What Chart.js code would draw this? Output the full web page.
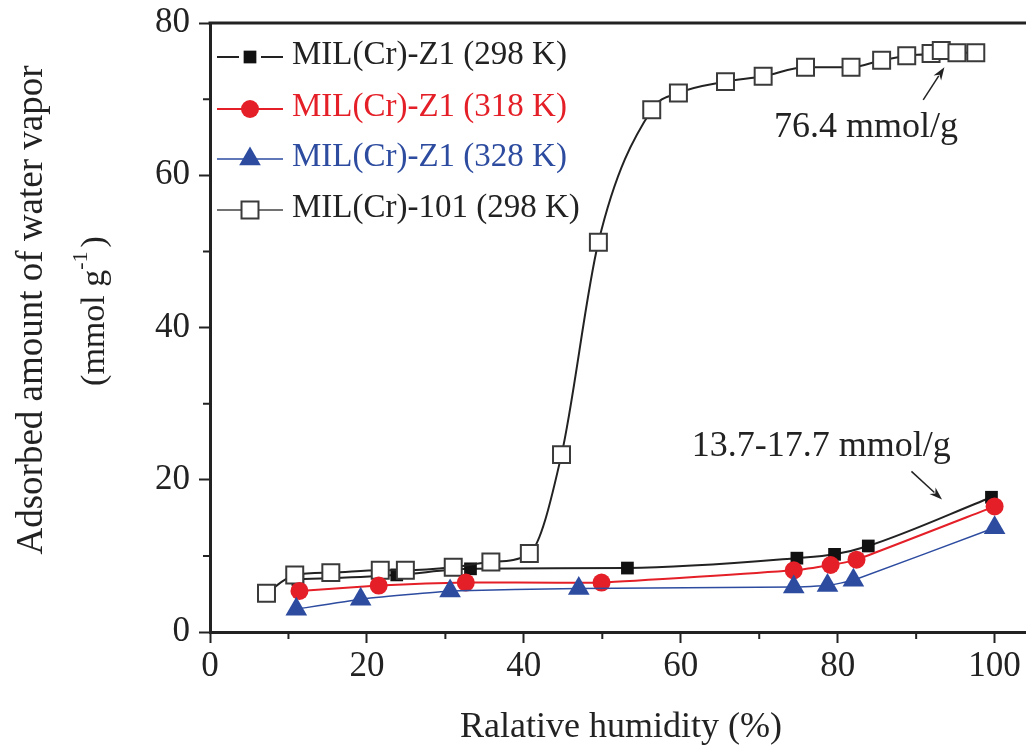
<!DOCTYPE html>
<html>
<head>
<meta charset="utf-8">
<script src="https://cdn.jsdelivr.net/npm/chart.js@4/dist/chart.umd.min.js"></script>
<style>
  body { margin: 0; background: #fff; overflow: hidden; }
  #wrap { width: 1026px; height: 747px; }
  canvas { display: block; }
</style>
</head>
<body>
<div id="wrap"><canvas id="isotherm" width="1026" height="747"></canvas></div>
<script>
// --- data: relative humidity (%) vs adsorbed water (mmol/g) ---
const rhZ1_298 = [11.2, 23.8, 33.2, 53.2, 74.8, 79.6, 83.9, 99.6];
const upZ1_298 = [6.9, 7.5, 8.3, 8.4, 9.7, 10.2, 11.3, 17.7];

const rhZ1_318 = [11.4, 21.5, 32.6, 49.9, 74.4, 79.1, 82.4, 100];
const upZ1_318 = [5.4, 6.1, 6.5, 6.5, 8.1, 8.8, 9.5, 16.5];

const rhZ1_328 = [11.0, 19.2, 30.6, 47.0, 74.4, 78.7, 82.0, 100];
const upZ1_328 = [3.0, 4.3, 5.4, 5.7, 5.9, 6.1, 6.8, 13.7];

const rhMIL101 = [7.2, 10.8, 15.4, 21.7, 24.9, 31.0, 35.8, 40.7, 44.8, 49.5, 56.3, 59.7,
                  65.7, 70.5, 75.9, 81.7, 85.6, 88.8, 91.9, 93.2, 95.2, 97.6];
const upMIL101 = [5.1, 7.5, 7.8, 8.1, 8.1, 8.5, 9.2, 10.3, 23.3, 51.2, 68.6, 70.8,
                  72.3, 73.0, 74.2, 74.2, 75.1, 75.7, 76.0, 76.4, 76.1, 76.1];

const xTicks = [0, 20, 40, 60, 80, 100];
const yTicks = [0, 20, 40, 60, 80];
const xMinor = [10, 30, 50, 70, 90];
const yMinor = [10, 30, 50, 70];

const seriesNames = ['MIL(Cr)-Z1 (298 K)', 'MIL(Cr)-Z1 (318 K)', 'MIL(Cr)-Z1 (328 K)', 'MIL(Cr)-101 (298 K)'];

const SERIF = "'Liberation Serif', 'Times New Roman', serif";
const INK = '#222';
const RED = '#e41f27';
const BLUE = '#2d4ca0';

const pts = (xs, ys) => xs.map((x, i) => ({ x: x, y: ys[i] }));

// callouts in data units
const notes = [
  { text: '76.4 mmol/g', at: [83.6, 66.3], tail: [90.9, 69.9], tip: [93.6, 74.2] },
  { text: '13.7-17.7 mmol/g', at: [77.9, 24.4], tail: [89.4, 21.1], tip: [93.3, 17.4] }
];

function marker(ctx, style, x, y, r, fill, stroke, bw) {
  ctx.save();
  ctx.beginPath();
  if (style === 'rect') {
    const s = r * Math.SQRT1_2;
    ctx.rect(x - s, y - s, 2 * s, 2 * s);
  } else if (style === 'circle') {
    ctx.arc(x, y, r, 0, Math.PI * 2);
  } else if (style === 'triangle') {
    for (let k = 0; k < 3; k++) {
      const a = k * 2 * Math.PI / 3;
      const px = x + Math.sin(a) * r, py = y - Math.cos(a) * r;
      k ? ctx.lineTo(px, py) : ctx.moveTo(px, py);
    }
    ctx.closePath();
  }
  ctx.fillStyle = fill;
  ctx.fill();
  if (bw) { ctx.lineWidth = bw; ctx.strokeStyle = stroke; ctx.stroke(); }
  ctx.restore();
}

function arrow(ctx, x1, y1, x2, y2) {
  const a = Math.atan2(y2 - y1, x2 - x1);
  const len = 13, half = 4.5;
  ctx.save();
  ctx.strokeStyle = INK;
  ctx.fillStyle = INK;
  ctx.lineWidth = 1.5;
  ctx.beginPath();
  ctx.moveTo(x1, y1);
  ctx.lineTo(x2 - Math.cos(a) * len * 0.8, y2 - Math.sin(a) * len * 0.8);
  ctx.stroke();
  ctx.beginPath();
  ctx.moveTo(x2, y2);
  ctx.lineTo(x2 - Math.cos(a) * len - Math.sin(a) * half, y2 - Math.sin(a) * len + Math.cos(a) * half);
  ctx.lineTo(x2 - Math.cos(a) * len * 0.7, y2 - Math.sin(a) * len * 0.7);
  ctx.lineTo(x2 - Math.cos(a) * len + Math.sin(a) * half, y2 - Math.sin(a) * len - Math.cos(a) * half);
  ctx.closePath();
  ctx.fill();
  ctx.restore();
}

// gap: space left between the sample line and the marker
const legendRows = [
  { style: 'rect', r: 9, fill: '#111', stroke: '#111', bw: 0, line: INK, lw: 2, gap: 11, text: INK },
  { style: 'circle', r: 9, fill: RED, stroke: RED, bw: 0, line: RED, lw: 2, gap: 0, text: RED },
  { style: 'triangle', r: 12.5, fill: BLUE, stroke: BLUE, bw: 0, line: BLUE, lw: 1.5, gap: 0, text: BLUE },
  { style: 'rect', r: 12, fill: '#fff', stroke: '#3a3a3a', bw: 2, line: '#444', lw: 1.5, gap: 0, text: INK }
];
const legendY = [55, 107, 157, 208];

const decor = {
  id: 'decor',
  afterDraw(chart) {
    const { ctx, chartArea: area, scales: { x, y } } = chart;

    // frame top edge
    ctx.save();
    ctx.strokeStyle = INK;
    ctx.lineWidth = 3;
    ctx.beginPath();
    ctx.moveTo(area.left - 1.5, area.top);
    ctx.lineTo(area.right, area.top);
    ctx.stroke();

    // minor ticks
    ctx.lineWidth = 2;
    ctx.beginPath();
    xMinor.forEach(v => {
      const px = x.getPixelForValue(v);
      ctx.moveTo(px, area.bottom);
      ctx.lineTo(px, area.bottom + 7);
    });
    yMinor.forEach(v => {
      const py = y.getPixelForValue(v);
      ctx.moveTo(area.left, py);
      ctx.lineTo(area.left - 7, py);
    });
    ctx.stroke();

    // axis titles
    ctx.fillStyle = INK;
    ctx.font = '36px ' + SERIF;
    ctx.textAlign = 'center';
    ctx.textBaseline = 'alphabetic';
    ctx.fillText('Ralative humidity (%)', 621, 737);

    ctx.save();
    ctx.translate(42, 310);
    ctx.rotate(-Math.PI / 2);
    ctx.font = '37px ' + SERIF;
    ctx.fillText('Adsorbed amount of water vapor', 0, 0);
    ctx.restore();

    ctx.save();
    ctx.translate(104, 311);
    ctx.rotate(-Math.PI / 2);
    ctx.textAlign = 'left';
    const big = '34px ' + SERIF, small = '22px ' + SERIF;
    ctx.font = big;
    const w1 = ctx.measureText('(mmol g').width;
    const w3 = ctx.measureText(')').width;
    ctx.font = small;
    const w2 = ctx.measureText('-1').width;
    let cx = -(w1 + w2 + w3 + 4) / 2;
    ctx.font = big;
    ctx.fillText('(mmol g', cx, 0);
    cx += w1;
    ctx.font = small;
    ctx.fillText('-1', cx, -17);
    cx += w2 + 4;
    ctx.font = big;
    ctx.fillText(')', cx, 0);
    ctx.restore();

    // legend
    ctx.font = '33px ' + SERIF;
    ctx.textAlign = 'left';
    ctx.textBaseline = 'middle';
    legendRows.forEach((row, i) => {
      const ly = legendY[i] + 2;
      ctx.strokeStyle = row.line;
      ctx.lineWidth = row.lw;
      ctx.beginPath();
      ctx.moveTo(217, ly);
      ctx.lineTo(250 - row.gap, ly);
      ctx.moveTo(250 + row.gap, ly);
      ctx.lineTo(283, ly);
      ctx.stroke();
      marker(ctx, row.style, 250, ly, row.r, row.fill, row.stroke, row.bw);
      ctx.fillStyle = row.text;
      ctx.fillText(seriesNames[i], 292, legendY[i]);
    });

    // callouts
    ctx.fillStyle = INK;
    ctx.font = '36px ' + SERIF;
    ctx.textAlign = 'center';
    notes.forEach(n => {
      ctx.fillText(n.text, x.getPixelForValue(n.at[0]), y.getPixelForValue(n.at[1]));
      arrow(ctx,
        x.getPixelForValue(n.tail[0]), y.getPixelForValue(n.tail[1]),
        x.getPixelForValue(n.tip[0]), y.getPixelForValue(n.tip[1]));
    });
    ctx.restore();
  }
};

const tickFont = { family: SERIF, size: 35 };

new Chart(document.getElementById('isotherm'), {
  type: 'line',
  data: {
    datasets: [
      {
        label: seriesNames[0],
        data: pts(rhZ1_298, upZ1_298),
        borderColor: INK, borderWidth: 2,
        cubicInterpolationMode: 'monotone',
        pointStyle: 'rect', pointRadius: 9,
        pointBackgroundColor: '#111', pointBorderColor: '#111', pointBorderWidth: 0,
        order: 4
      },
      {
        label: seriesNames[1],
        data: pts(rhZ1_318, upZ1_318),
        borderColor: RED, borderWidth: 2,
        tension: 0.15,
        pointStyle: 'circle', pointRadius: 9,
        pointBackgroundColor: RED, pointBorderColor: RED, pointBorderWidth: 0,
        order: 2
      },
      {
        label: seriesNames[2],
        data: pts(rhZ1_328, upZ1_328),
        borderColor: BLUE, borderWidth: 1.5,
        tension: 0.1,
        pointStyle: 'triangle', pointRadius: 12.5,
        pointBackgroundColor: BLUE, pointBorderColor: BLUE, pointBorderWidth: 0,
        order: 1
      },
      {
        label: seriesNames[3],
        data: pts(rhMIL101, upMIL101),
        borderColor: INK, borderWidth: 2,
        cubicInterpolationMode: 'monotone',
        pointStyle: 'rect', pointRadius: 12,
        pointBackgroundColor: '#fff', pointBorderColor: '#3a3a3a', pointBorderWidth: 2,
        order: 3
      }
    ]
  },
  options: {
    responsive: false,
    animation: false,
    devicePixelRatio: 1,
    layout: { autoPadding: false, padding: { top: 23, right: 0, left: 0, bottom: 0 } },
    plugins: {
      legend: { display: false },
      tooltip: { enabled: false }
    },
    scales: {
      x: {
        type: 'linear',
        min: 0, max: 104,
        afterBuildTicks: s => { s.ticks = xTicks.map(v => ({ value: v })); },
        afterFit: s => { s.height = 115; s.paddingLeft = 0; s.paddingRight = 0; },
        ticks: { font: tickFont, color: INK, padding: 3, maxRotation: 0 },
        grid: { drawOnChartArea: false, drawTicks: true, tickLength: 11, tickWidth: 2, tickColor: INK },
        border: { display: true, color: INK, width: 3 }
      },
      y: {
        type: 'linear',
        min: 0, max: 80,
        afterBuildTicks: s => { s.ticks = yTicks.map(v => ({ value: v })); },
        afterFit: s => { s.width = 210; s.paddingTop = 0; s.paddingBottom = 0; },
        ticks: { font: tickFont, color: INK, padding: 9 },
        grid: { drawOnChartArea: false, drawTicks: true, tickLength: 11, tickWidth: 2, tickColor: INK },
        border: { display: true, color: INK, width: 3 }
      }
    }
  },
  plugins: [decor]
});
</script>
</body>
</html>
